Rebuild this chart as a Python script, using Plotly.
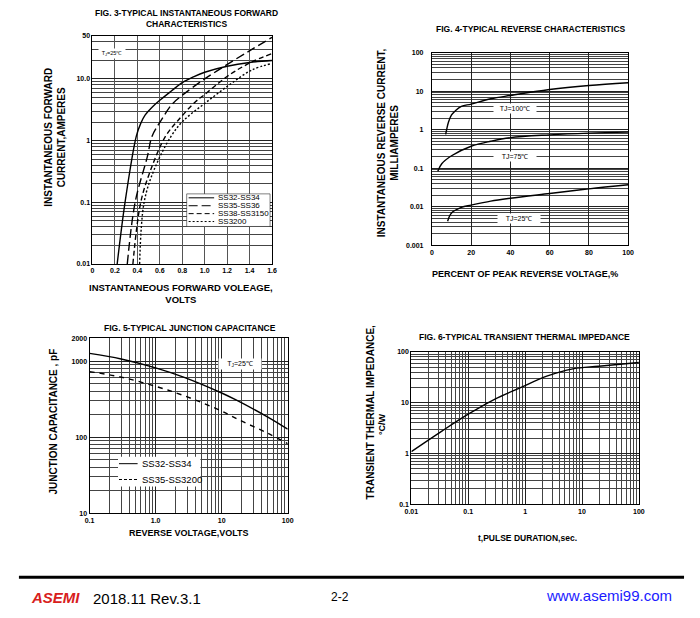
import math
import plotly.graph_objects as go

# page body has an 8px margin, so the figure is sized to fit inside it
PAGE_W, PAGE_H, OFF = 700, 618, 8
W, H = PAGE_W - 2 * OFF, PAGE_H - 2 * OFF
FONT = "Liberation Sans"

# Fig. 3 - forward characteristics (volts, amperes)
vf_ss32 = [0.22, 0.29, 0.39, 0.43, 0.47, 0.54, 0.60, 0.70, 0.80, 0.90, 1.00, 1.20, 1.40, 1.60]
if_ss32 = [0.01, 0.1, 1.17, 1.9, 2.6, 3.6, 4.5, 6.3, 8.7, 10.8, 12.8, 16.0, 18.4, 19.8]
vf_ss35 = [0.31, 0.38, 0.49, 0.53, 0.61, 0.71, 0.81, 0.99, 1.22, 1.42, 1.60]
if_ss35 = [0.01, 0.1, 0.56, 1.17, 2.1, 3.9, 5.6, 9.7, 18, 30, 47]
vf_ss38 = [0.36, 0.43, 0.52, 0.65, 0.76, 0.92, 0.99, 1.22, 1.42, 1.60]
if_ss38 = [0.01, 0.1, 0.34, 1.17, 2.1, 4.3, 5.4, 11.6, 18.8, 25.7]
vf_ss3200 = [0.42, 0.46, 0.55, 0.70, 0.81, 1.00, 1.22, 1.42, 1.60]
if_ss3200 = [0.01, 0.1, 0.34, 1.17, 2.1, 4.0, 8.0, 13.9, 17.8]
fig3_names = ["SS32-SS34", "SS35-SS36", "SS38-SS3150", "SS3200"]

# Fig. 4 - reverse characteristics (% of peak reverse voltage, mA)
pct_100 = [7, 8.5, 10, 12, 15, 20, 30, 40, 60, 80, 100]
ir_100 = [0.75, 1.6, 2.4, 3.1, 4.0, 4.6, 6.3, 7.7, 11, 14, 16.5]
pct_75 = [3, 5, 10, 20, 30, 40, 60, 80, 100]
ir_75 = [0.083, 0.13, 0.21, 0.37, 0.5, 0.62, 0.73, 0.81, 0.86]
pct_25 = [8, 10, 15, 20, 30, 40, 60, 80, 100]
ir_25 = [0.0042, 0.0069, 0.0096, 0.011, 0.014, 0.0166, 0.022, 0.029, 0.037]

# Fig. 5 - junction capacitance (volts, pF)
vr = [0.1, 0.3, 1, 2.65, 10, 16.5, 50, 100]
cj_ss32 = [1260, 1065, 815, 615, 380, 308, 183, 127]
cj_ss35 = [725, 615, 465, 352, 220, 176, 112, 82]
fig5_names = ["SS32-SS34", "SS35-SS3200"]

# Fig. 6 - transient thermal impedance (sec, C/W)
t_pulse = [0.01, 0.035, 0.1, 0.29, 0.83, 2.4, 6.9, 19.7, 100]
z_th = [1.09, 2.8, 5.95, 11.7, 19.8, 33.4, 46.6, 52.5, 62]


def px(x):
    return (x - OFF) / W


def py(y):
    return 1 - (y - OFF) / H


def log_grid(lo, hi):
    # 1..9 x 10^n lines for log axes
    out = []
    for n in range(int(math.floor(math.log10(lo))), int(math.ceil(math.log10(hi))) + 1):
        for k in range(1, 10):
            v = k * 10 ** n
            if lo <= v <= hi:
                out.append(v)
    return out


fig = go.Figure()

line_w = 1.4
fig3_dash = ["solid", "9px,4px", "5px,3px", "2px,2px"]
for xs, ys, d in zip([vf_ss32, vf_ss35, vf_ss38, vf_ss3200],
                     [if_ss32, if_ss35, if_ss38, if_ss3200], fig3_dash):
    fig.add_trace(go.Scatter(x=xs, y=ys, mode="lines", xaxis="x", yaxis="y",
                             line=dict(color="black", width=line_w, dash=d, shape="spline"),
                             showlegend=False))

for xs, ys in zip([pct_100, pct_75, pct_25], [ir_100, ir_75, ir_25]):
    fig.add_trace(go.Scatter(x=xs, y=ys, mode="lines", xaxis="x2", yaxis="y2",
                             line=dict(color="black", width=line_w, shape="spline"),
                             showlegend=False))

fig5_dash = ["solid", "5px,5px"]
for ys, d in zip([cj_ss32, cj_ss35], fig5_dash):
    fig.add_trace(go.Scatter(x=vr, y=ys, mode="lines", xaxis="x3", yaxis="y3",
                             line=dict(color="black", width=line_w, dash=d, shape="spline"),
                             showlegend=False))

fig.add_trace(go.Scatter(x=t_pulse, y=z_th, mode="lines", xaxis="x4", yaxis="y4",
                         line=dict(color="black", width=line_w, shape="spline"),
                         showlegend=False))

tick_font = dict(family=FONT, size=7, color="black", weight="bold")
base = dict(showline=True, linecolor="black", linewidth=1, mirror=True, ticks="",
            zeroline=False, showgrid=True, gridcolor="#222", gridwidth=1,
            tickfont=tick_font, fixedrange=True)


def log_axis(lo, hi, tickvals, ticktext, domain, anchor):
    return dict(base, type="log", range=[math.log10(lo), math.log10(hi)], domain=domain,
                anchor=anchor, tickmode="array", tickvals=tickvals, ticktext=ticktext,
                minor=dict(tickmode="array", tickvals=log_grid(lo, hi), showgrid=True,
                           gridcolor="#444", gridwidth=1, ticks=""))


fig.update_layout(
    width=W, height=H, margin=dict(l=0, r=0, t=0, b=0),
    paper_bgcolor="white", plot_bgcolor="white", showlegend=False,
    xaxis=dict(base, range=[0, 1.6], domain=[px(87), px(270)], anchor="y",
               tickmode="array", tickvals=[0, 0.2, 0.4, 0.6, 0.8, 1.0, 1.2, 1.4, 1.6],
               ticktext=["0", "0.2", "0.4", "0.6", "0.8", "1.0", "1.2", "1.4", "1.6"],
               gridcolor="#555"),
    yaxis=log_axis(0.01, 50, [0.01, 0.1, 1, 10, 50], ["0.01", "0.1", "1", "10.0", "50"],
                   [py(263), py(32)], "x"),
    xaxis2=dict(base, range=[0, 100], domain=[px(433), px(633)], anchor="y2",
                tickmode="array", tickvals=[0, 20, 40, 60, 80, 100]),
    yaxis2=log_axis(0.001, 100, [0.001, 0.01, 0.1, 1, 10, 100],
                    ["0.001", "0.01", "0.1", "1", "10", "100"], [py(244), py(49)], "x2"),
    xaxis3=log_axis(0.1, 100, [0.1, 1, 10, 100], ["0.1", "1.0", "10", "100"],
                    [px(84), px(286)], "y3"),
    yaxis3=log_axis(10, 2000, [10, 100, 1000, 2000], ["10", "100", "1000", "2000"],
                    [py(515), py(338)], "x3"),
    xaxis4=log_axis(0.01, 100, [0.01, 0.1, 1, 10, 100], ["0.01", "0.1", "1", "10", "100"],
                    [px(412), px(644)], "y4"),
    yaxis4=log_axis(0.1, 100, [0.1, 1, 10, 100], ["0.1", "1", "10", "100"],
                    [py(506), py(352)], "x4"),
)
fig.update_layout(yaxis2=dict(ticklabelstandoff=6))

ann = []


def text(x, y, s, size=9, angle=0, bold=True, color="black", xanchor="center", **kw):
    ann.append(dict(x=px(x), y=py(y), xref="paper", yref="paper", text=s, showarrow=False,
                    textangle=angle, xanchor=xanchor, yanchor="middle",
                    font=dict(family=FONT, size=size, color=color,
                              weight="bold" if bold else "normal", **kw)))


# titles
text(183, 15, "FIG. 3-TYPICAL INSTANTANEOUS FORWARD<br>CHARACTERISTICS", 8.5)
text(534, 25, "FIG. 4-TYPICAL REVERSE CHARACTERISTICS", 8.5)
text(186, 328, "FIG. 5-TYPICAL JUNCTION CAPACITANCE", 8.5)
text(527, 337, "FIG. 6-TYPICAL TRANSIENT THERMAL IMPEDANCE", 8.5)

# axis titles
text(48, 135, "INSTANTANEOUS FORWARD<br>CURRENT,AMPERES", 10, angle=-90)
text(177, 293, "INSTANTANEOUS FORWARD VOLEAGE,<br>VOLTS", 9.5)
text(389, 140, "INSTANTANEOUS REVERSE CURRENT,<br>MILLIAMPERES", 10, angle=-90)
text(528, 273, "PERCENT OF PEAK REVERSE VOLTAGE,%", 9)
text(47, 422, "JUNCTION CAPACITANCE , pF", 10, angle=-90)
text(185, 535, "REVERSE VOLTAGE,VOLTS", 9)
text(370, 413, "TRANSIENT THERMAL IMPEDANCE,", 10, angle=-90)
text(382, 425, "°C/W", 9, angle=-90)
text(530, 540, "t,PULSE DURATION,sec.", 8.5)


# boxed condition labels placed in data coordinates
def tag(xref, yref, x, y, s, size, width, log_x=False):
    ann.append(dict(x=math.log10(x) if log_x else x, y=math.log10(y), xref=xref, yref=yref,
                    text=s, showarrow=False, bgcolor="white", borderpad=1, width=width,
                    font=dict(family=FONT, size=size, color="black")))


tag("x", "y", 0.175, 26, "T<sub>J</sub>=25℃", 5.5, 24)
tag("x2", "y2", 42.3, 3.6, "TJ=100℃", 7, 40)
tag("x2", "y2", 42.5, 0.2, "TJ=75℃", 7, 40)
tag("x2", "y2", 44.5, 0.005, "TJ=25℃", 7, 40)
tag("x3", "y3", 19, 910, "T<sub>J</sub>=25℃", 7, 40, log_x=True)

shapes = []
# Fig. 3 key
shapes.append(dict(type="rect", xref="paper", yref="paper", x0=px(183), x1=px(268),
                   y0=py(225), y1=py(192), line=dict(color="black", width=0.5),
                   fillcolor="white", layer="above"))
for i, (name, d) in enumerate(zip(fig3_names, fig3_dash)):
    yy = 196 + i * 8
    shapes.append(dict(type="line", xref="paper", yref="paper", x0=px(185), x1=px(211),
                       y0=py(yy), y1=py(yy), line=dict(color="black", width=1, dash=d),
                       layer="above"))
    text(213, yy, name, 8, bold=False, xanchor="left")

# Fig. 5 key
shapes.append(dict(type="rect", xref="paper", yref="paper", x0=px(113), x1=px(197),
                   y0=py(488), y1=py(458), line=dict(color="white", width=0),
                   fillcolor="white", layer="above"))
for i, (name, d) in enumerate(zip(fig5_names, ["solid", "3px,2px"])):
    yy = 465 + i * 16
    shapes.append(dict(type="line", xref="paper", yref="paper", x0=px(114), x1=px(133),
                       y0=py(yy), y1=py(yy), line=dict(color="black", width=1, dash=d),
                       layer="above"))
    text(135, yy, name, 9.5, bold=False, xanchor="left")

# footer
shapes.append(dict(type="line", xref="paper", yref="paper", x0=px(12), x1=px(690),
                   y0=py(580), y1=py(580), line=dict(color="black", width=3)))
text(22, 600, "ASEMI", 15, color="#d8201c", xanchor="left", style="italic")
text(85, 601, "2018.11 Rev.3.1", 15, bold=False, xanchor="left")
text(339, 600, "2-2", 12, bold=False)
text(680, 598, "www.asemi99.com", 15, bold=False, color="#1a1aff", xanchor="right")

fig.update_layout(annotations=ann, shapes=shapes)

fig.write_html("out.html")
